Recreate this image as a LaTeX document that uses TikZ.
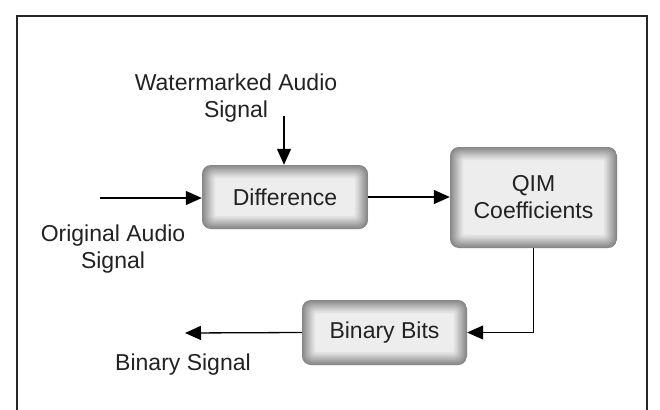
\documentclass[tikz,border=0pt]{standalone}
\usepackage{fontspec}
\setmainfont{Liberation Sans}
\usetikzlibrary{arrows.meta,calc}
\definecolor{boxfill}{HTML}{EDEDED}
\definecolor{txt}{HTML}{222222}
\definecolor{framec}{HTML}{262626}
\tikzset{
  softbox/.style={rounded corners=9pt, fill=boxfill, inner sep=0pt, align=center,
    text=txt, font=\fontsize{23}{27}\selectfont,
    path picture={
      \foreach \i in {0,...,13}{
        \pgfmathsetmacro\c{48-\i*2.8}
        \pgfmathsetmacro\r{max(9-\i*0.5,2)}
        \draw[line width=1.6pt, color=black!\c, rounded corners=\r pt]
          ([shift={(\i pt*0.9+0.5pt,\i pt*0.9+0.5pt)}]path picture bounding box.south west)
          rectangle
          ([shift={(-\i pt*0.9-0.5pt,-\i pt*0.9-0.5pt)}]path picture bounding box.north east);
      }
    }},
  lbl/.style={align=center, text=txt, font=\fontsize{23}{27}\selectfont, inner sep=0pt},
  conn/.style={line width=1.3pt, black, -{Triangle[length=16pt,width=14pt]}},
}
\begin{document}
\begin{tikzpicture}[x=1pt,y=-1pt]
\useasboundingbox (0,0) rectangle (660,409);
\fill[white] (0,0) rectangle (660,409);
\draw[framec, line width=1.7pt] (17,16) rectangle (647,420);

\node[softbox, minimum width=166pt, minimum height=64pt] (diff) at (285,197) {Difference};
\node[softbox, minimum width=167pt, minimum height=101pt] (qim) at (533.5,197.5) {QIM\\Coefficients};
\node[softbox, minimum width=165pt, minimum height=65pt] (bits) at (384.5,332.5) {Binary Bits};

\node[lbl] (wm) at (236,98) {Watermarked Audio\\Signal};
\node[lbl] (orig) at (113,249) {Original Audio\\Signal};
\node[lbl] (bsig) at (183,365) {Binary Signal};

\coordinate (wmstart) at (284,116);
\coordinate (origstart) at (100,198);
\coordinate (bend) at (185,333);

\draw[conn] (wmstart) -- (wmstart |- diff.north);
\draw[conn] (origstart) -- (origstart -| diff.west);
\draw[conn] (diff.east) -- (diff.east -| qim.west);
\draw[conn] (qim.south) |- (bits.east);
\draw[conn] (bits.west) -- (bend);
\end{tikzpicture}
\end{document}
